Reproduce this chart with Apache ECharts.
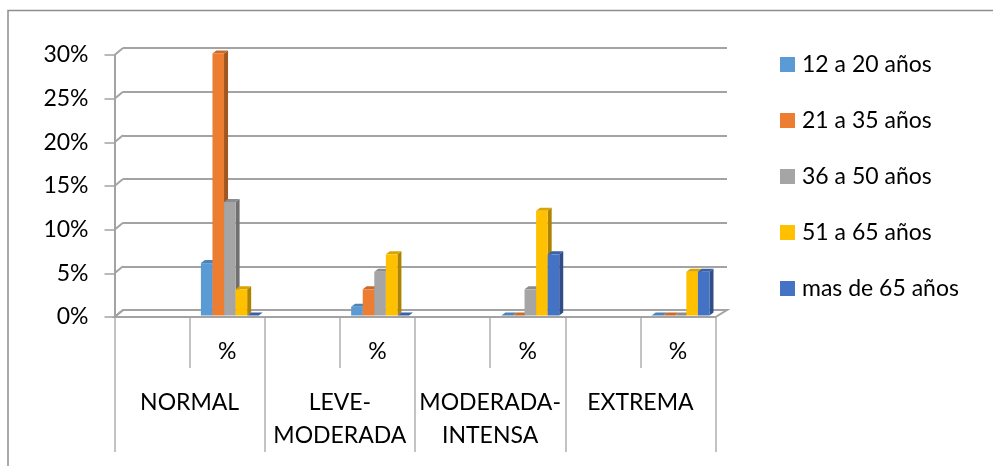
<!DOCTYPE html>
<html>
<head>
<meta charset="utf-8">
<script src="https://cdn.jsdelivr.net/npm/echarts@6/dist/echarts.min.js"></script>
<style>
  html, body { margin: 0; padding: 0; background: #fff; }
  #chart { width: 993px; height: 466px; }
</style>
</head>
<body>
<div id="chart"></div>
<script>
// Category groups and their sub-level labels
const groups = ['NORMAL', 'LEVE-\nMODERADA', 'MODERADA-\nINTENSA', 'EXTREMA'];
const subLabels = ['', '%'];

// Age ranges (series) and their percentages per group
const seriesNames = ['12 a 20 años', '21 a 35 años', '36 a 50 años', '51 a 65 años', 'mas de 65 años'];
const age12to20 = [6, 1, 0, 0];
const age21to35 = [30, 3, 0, 0];
const age36to50 = [13, 5, 3, 0];
const age51to65 = [3, 7, 12, 5];
const ageOver65 = [0, 0, 7, 5];

// Value axis ticks (percent)
const yTicks = [0, 5, 10, 15, 20, 25, 30];

const seriesValues = [age12to20, age21to35, age36to50, age51to65, ageOver65];
const colors = ['#5B9BD5', '#ED7D31', '#A5A5A5', '#FFC000', '#4472C4'];

// Two-level category axis: every group holds an empty slot and a "%" slot
const subCategories = [];
groups.forEach(() => subLabels.forEach(s => subCategories.push(s)));

const FONT = 'Lato';
const FONT_SIZE = 23;
const GRID = { left: 114.5, top: 55, width: 601, height: 262 };
const DEPTH = [8.5, -7];     // offset of the back wall
const BAR_DEPTH = [4, -3];   // visible depth of each column

function shade(hex, k) {
  const n = parseInt(hex.slice(1), 16);
  const r = Math.round(((n >> 16) & 255) * k);
  const g = Math.round(((n >> 8) & 255) * k);
  const b = Math.round((n & 255) * k);
  return 'rgb(' + r + ',' + g + ',' + b + ')';
}

// Renders a 3D-looking column: front face, right side and top face
function columnRenderer(si, color) {
  return function (params, api) {
    const cat = api.value(0);
    const v = api.value(1);
    const top = api.coord([cat, v]);
    const base = api.coord([cat, 0]);
    const band = api.size([1, 0])[0];
    const pitch = band * 0.154;
    const x = top[0] - pitch * 2.5 + band * 0.035 + si * pitch;
    const yT = top[1] - 1.5;
    const yB = base[1] - 1.5;
    const dx = BAR_DEPTH[0], dy = BAR_DEPTH[1];
    return {
      type: 'group',
      children: [
        {
          type: 'polygon',
          shape: { points: [[x + pitch, yT], [x + pitch + dx, yT + dy], [x + pitch + dx, yB + dy], [x + pitch, yB]] },
          style: { fill: shade(color, 0.68) }
        },
        {
          type: 'polygon',
          shape: { points: [[x, yT], [x + dx, yT + dy], [x + pitch + dx, yT + dy], [x + pitch, yT]] },
          style: { fill: shade(color, 0.85) }
        },
        {
          type: 'rect',
          shape: { x: x, y: yT, width: pitch, height: yB - yT },
          style: { fill: color }
        }
      ]
    };
  };
}

// Floor and the slanted links between front ticks and back-wall gridlines
function frameRenderer(params, api) {
  const cs = params.coordSys;
  const v = api.value(1);
  const y = api.coord([0, v])[1];
  const x0 = cs.x;
  const children = [];
  if (v === 0) {
    const x1 = cs.x + cs.width;
    children.push({
      type: 'polygon',
      shape: { points: [[x0, y], [x1, y], [x1 + 11.5, y + DEPTH[1]], [x0 + DEPTH[0], y + DEPTH[1]]] },
      style: { fill: '#ffffff', stroke: '#a3a3a3', lineWidth: 2 }
    });
  }
  children.push({
    type: 'line',
    shape: { x1: x0, y1: y, x2: x0 + DEPTH[0], y2: y + DEPTH[1] },
    style: { stroke: '#a3a3a3', lineWidth: 2 }
  });
  return { type: 'group', children: children };
}

const series = [
  {
    type: 'custom',
    name: 'frame',
    xAxisIndex: 0,
    yAxisIndex: 0,
    silent: true,
    z: 1,
    renderItem: frameRenderer,
    encode: { x: 0, y: 1 },
    data: yTicks.map(v => [0, v])
  }
];

seriesNames.forEach((name, si) => {
  series.push({
    type: 'custom',
    name: name,
    xAxisIndex: 0,
    yAxisIndex: 0,
    z: 3 + si,
    itemStyle: { color: colors[si] },
    renderItem: columnRenderer(si, colors[si]),
    encode: { x: 0, y: 1 },
    data: seriesValues[si].map((v, g) => [g * subLabels.length + 1, v])
  });
});

const chart = echarts.init(document.getElementById('chart'), null, { renderer: 'canvas' });
chart.setOption({
  animation: false,
  backgroundColor: '#ffffff',
  textStyle: { fontFamily: FONT },
  graphic: [
    {
      type: 'rect',
      silent: true,
      z: 0,
      shape: { x: 8, y: 10.5, width: 1100, height: 600 },
      style: { fill: 'none', stroke: '#8e8e8e', lineWidth: 1.5 }
    }
  ],
  legend: {
    data: seriesNames,
    orient: 'vertical',
    left: 780,
    top: 53,
    padding: 0,
    icon: 'rect',
    itemWidth: 15,
    itemHeight: 15,
    itemGap: 33,
    textStyle: { fontFamily: FONT, fontSize: FONT_SIZE, lineHeight: 23, color: '#000', padding: [0, 0, 0, 2] }
  },
  grid: [
    { left: GRID.left, top: GRID.top, width: GRID.width, height: GRID.height },
    { left: GRID.left + DEPTH[0], top: GRID.top + DEPTH[1], width: GRID.width + 3, height: GRID.height }
  ],
  xAxis: [
    {
      gridIndex: 0,
      type: 'category',
      position: 'bottom',
      data: subCategories,
      axisLine: { show: false },
      axisTick: { show: true, interval: 0, length: 51, lineStyle: { color: '#b0b0b0', width: 1.5 } },
      axisLabel: { interval: 0, margin: 23.5, fontFamily: FONT, fontSize: FONT_SIZE, lineHeight: 23, color: '#000' }
    },
    {
      gridIndex: 0,
      type: 'category',
      position: 'bottom',
      data: groups,
      axisLine: { show: false },
      axisTick: { show: true, interval: 0, length: 135, lineStyle: { color: '#b0b0b0', width: 1.5 } },
      axisLabel: { interval: 0, margin: 69.5, fontFamily: FONT, fontSize: FONT_SIZE, lineHeight: 33, color: '#000' }
    },
    {
      gridIndex: 1,
      type: 'category',
      data: subCategories,
      show: false
    }
  ],
  yAxis: [
    {
      gridIndex: 0,
      type: 'value',
      min: 0,
      max: 30,
      interval: 5,
      axisLine: { show: true, lineStyle: { color: '#a3a3a3', width: 2 } },
      axisTick: { show: true, length: 10, lineStyle: { color: '#a3a3a3', width: 1.5 } },
      splitLine: { show: false },
      axisLabel: { margin: 26, formatter: '{value}%', fontFamily: FONT, fontSize: FONT_SIZE, color: '#000', padding: [4, 0, 0, 0] }
    },
    {
      gridIndex: 1,
      type: 'value',
      min: 0,
      max: 30,
      interval: 5,
      axisLine: { show: false },
      axisTick: { show: false },
      axisLabel: { show: false },
      splitLine: { show: true, lineStyle: { color: '#a3a3a3', width: 2 } }
    }
  ],
  series: series
});
</script>
</body>
</html>
